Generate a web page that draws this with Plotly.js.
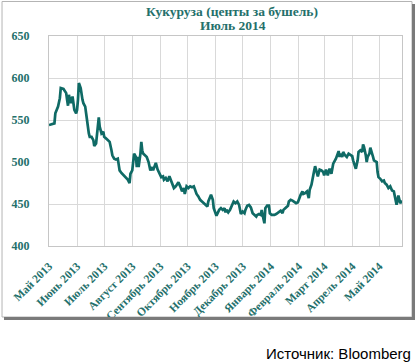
<!DOCTYPE html>
<html>
<head>
<meta charset="utf-8">
<script src="https://cdn.plot.ly/plotly-3.0.1.min.js"></script>
<style>
html,body{margin:0;padding:0;background:#fff;}
#chart{width:418px;height:362px;}
</style>
</head>
<body>
<div id="chart"></div>
<script>
// Dates (trading days sampled) and corn price, cents per bushel
const dates = [
'2013-05-01','2013-05-06','2013-05-07','2013-05-08','2013-05-11','2013-05-13','2013-05-14','2013-05-17','2013-05-19','2013-05-20',
'2013-05-21','2013-05-22','2013-05-23','2013-05-24','2013-05-25','2013-05-26','2013-05-27','2013-05-28','2013-05-29','2013-05-31',
'2013-06-01','2013-06-02','2013-06-03','2013-06-05','2013-06-06','2013-06-07','2013-06-08','2013-06-10','2013-06-11','2013-06-12',
'2013-06-14','2013-06-15','2013-06-17','2013-06-19','2013-06-20','2013-06-22','2013-06-23','2013-06-25','2013-06-26','2013-06-28',
'2013-06-30','2013-07-01','2013-07-04','2013-07-07','2013-07-09','2013-07-10','2013-07-12','2013-07-14','2013-07-16','2013-07-17',
'2013-07-18','2013-07-20','2013-07-23','2013-07-25','2013-07-27','2013-07-29','2013-07-30','2013-08-01','2013-08-02','2013-08-03',
'2013-08-05','2013-08-06','2013-08-07','2013-08-08','2013-08-10','2013-08-11','2013-08-12','2013-08-13','2013-08-15','2013-08-17',
'2013-08-19','2013-08-21','2013-08-23','2013-08-24','2013-08-26','2013-08-27','2013-08-29','2013-08-31','2013-09-02','2013-09-04',
'2013-09-05','2013-09-07','2013-09-09','2013-09-11','2013-09-14','2013-09-16','2013-09-18','2013-09-21','2013-09-23','2013-09-25',
'2013-09-27','2013-09-28','2013-09-30','2013-10-02','2013-10-04','2013-10-06','2013-10-08','2013-10-09','2013-10-11','2013-10-13',
'2013-10-15','2013-10-17','2013-10-19','2013-10-21','2013-10-23','2013-10-24','2013-10-26','2013-10-27','2013-10-29','2013-10-30',
'2013-11-02','2013-11-03','2013-11-05','2013-11-07','2013-11-09','2013-11-11','2013-11-12','2013-11-13','2013-11-15','2013-11-17',
'2013-11-19','2013-11-21','2013-11-23','2013-11-25','2013-11-27','2013-11-28','2013-11-29','2013-12-01','2013-12-03','2013-12-04',
'2013-12-06','2013-12-08','2013-12-10','2013-12-12','2013-12-14','2013-12-16','2013-12-17','2013-12-19','2013-12-21','2013-12-22',
'2013-12-23','2013-12-25','2013-12-26','2013-12-28','2013-12-30','2013-12-31','2014-01-02','2014-01-05','2014-01-07','2014-01-10',
'2014-01-12','2014-01-14','2014-01-15','2014-01-17','2014-01-20','2014-01-21','2014-01-23','2014-01-25','2014-01-27','2014-01-29',
'2014-01-31','2014-02-01','2014-02-03','2014-02-05','2014-02-06','2014-02-08','2014-02-10','2014-02-12','2014-02-13','2014-02-15',
'2014-02-17','2014-02-18','2014-02-19','2014-02-20','2014-02-22','2014-02-24','2014-02-26','2014-02-28','2014-03-01','2014-03-03',
'2014-03-05','2014-03-07','2014-03-09','2014-03-11','2014-03-12','2014-03-14','2014-03-16','2014-03-17','2014-03-18','2014-03-19',
'2014-03-21','2014-03-22','2014-03-24','2014-03-26','2014-03-28','2014-03-30','2014-04-01','2014-04-02','2014-04-04','2014-04-05',
'2014-04-07','2014-04-08','2014-04-10','2014-04-12','2014-04-13','2014-04-14','2014-04-16','2014-04-17','2014-04-18','2014-04-20',
'2014-04-21','2014-04-22','2014-04-24','2014-04-25','2014-04-28','2014-04-29','2014-04-30','2014-05-02','2014-05-04','2014-05-06',
'2014-05-07','2014-05-09','2014-05-11','2014-05-13','2014-05-15','2014-05-17','2014-05-18','2014-05-19','2014-05-20','2014-05-22',
'2014-05-23','2014-05-24','2014-05-26'
];
const prices = [
544,545,546,558,566,576,588,587,584,582,
574,567,580,576,570,574,578,570,562,558,
562,574,594,588,578,574,570,566,558,548,
534,530,530,526,519,522,536,553,542,534,
536,530,527,524,514,508,504,503,504,498,
490,487,484,482,479,475,486,490,499,510,
506,494,506,494,510,524,514,510,508,506,
500,490,494,490,496,499,491,486,482,483,
479,481,477,483,475,469,471,476,471,465,
469,462,471,469,471,470,471,467,462,459,
455,453,451,448,447,453,459,461,455,445,
436,439,443,445,443,445,440,443,440,443,
449,453,451,453,449,441,438,441,439,443,
448,449,446,439,437,435,437,438,437,443,
437,427,445,448,448,439,437,437,438,440,
442,439,443,445,448,453,455,454,452,451,
452,456,461,465,462,463,465,457,467,473,
482,490,495,490,483,491,490,488,484,491,
484,492,486,498,500,504,510,513,506,510,
506,512,508,506,510,508,507,502,496,492,
502,512,514,512,521,518,508,500,506,510,
517,514,506,502,500,488,482,480,477,478,
475,473,469,471,466,465,460,458,449,460,
453,451,454
];
const tickDates = ['2013-05-01','2013-06-01','2013-07-01','2013-08-01','2013-09-01','2013-10-01','2013-11-01','2013-12-01','2014-01-01','2014-02-01','2014-03-01','2014-04-01','2014-05-01'];
const tickLabels = ['Май 2013','Июнь 2013','Июль 2013','Август 2013','Сентябрь 2013','Октябрь 2013','Ноябрь 2013','Декабрь 2013','Январь 2014','Февраль 2014','Март 2014','Апрель 2014','Май 2014'];
const yTicks = [400,450,500,550,600,650];
const titleLine1 = 'Кукуруза (центы за бушель)';
const titleLine2 = 'Июль 2014';
const sourceText = 'Источник: Bloomberg';

const teal = '#0f6a65';
const textTeal = '#24706b';
const serif = 'Liberation Serif, Times New Roman, serif';
const titleFont = {family: serif, size: 13.5, color: textTeal, weight: 'bold'};

const trace = {
  x: dates, y: prices, type: 'scatter', mode: 'lines',
  line: {color: teal, width: 2.7}, hoverinfo: 'skip'
};

const layout = {
  width: 418, height: 362,
  margin: {l: 49, r: 16, t: 36, b: 116},
  paper_bgcolor: '#ffffff', plot_bgcolor: '#ffffff',
  showlegend: false,
  xaxis: {
    type: 'date',
    range: ['2013-05-01', '2014-05-26'],
    tickmode: 'array', tickvals: tickDates, ticktext: tickLabels,
    tickangle: -45,
    tickfont: {family: serif, size: 11.5, color: textTeal, weight: 'bold'},
    showgrid: true, gridcolor: '#d9d9d9', gridwidth: 1,
    showline: true, linecolor: '#c6c6c6', linewidth: 1, mirror: true,
    ticks: '', ticklabelstandoff: 8, zeroline: false, fixedrange: true
  },
  yaxis: {
    range: [400, 650],
    tickmode: 'array', tickvals: yTicks,
    tickfont: {family: serif, size: 12, color: textTeal, weight: 'bold'},
    showgrid: true, gridcolor: '#d9d9d9', gridwidth: 1,
    showline: true, linecolor: '#c6c6c6', linewidth: 1, mirror: true,
    ticks: '', ticklabelstandoff: 16, zeroline: false, fixedrange: true
  },
  shapes: [
    {type: 'rect', xref: 'paper', yref: 'paper', x0: -0.1331, x1: 1.0283, y0: -0.3381, y1: 1.1643,
     line: {color: '#b4b4b4', width: 1}, fillcolor: 'rgba(0,0,0,0)', layer: 'below'},
    {type: 'line', xref: 'paper', yref: 'paper', x0: 1.0326, x1: 1.0326, y0: 1.1524, y1: -0.35,
     line: {color: '#7a7a7a', width: 3}},
    {type: 'line', xref: 'paper', yref: 'paper', x0: -0.1275, x1: 1.0368, y0: -0.3452, y1: -0.3452,
     line: {color: '#7a7a7a', width: 3}}
  ],
  annotations: [
    {text: titleLine1, xref: 'paper', yref: 'paper', x: 0.518, y: 1.119,
     xanchor: 'center', yanchor: 'middle', showarrow: false, font: titleFont},
    {text: titleLine2, xref: 'paper', yref: 'paper', x: 0.522, y: 1.052,
     xanchor: 'center', yanchor: 'middle', showarrow: false, font: titleFont},
    {text: sourceText, xref: 'paper', yref: 'paper', x: 1.031, y: -0.514,
     xanchor: 'right', yanchor: 'middle', showarrow: false,
     font: {family: 'Liberation Sans, Arial, sans-serif', size: 15, color: '#000000'}}
  ]
};

Plotly.newPlot('chart', [trace], layout, {displayModeBar: false, staticPlot: true});
</script>
</body>
</html>
